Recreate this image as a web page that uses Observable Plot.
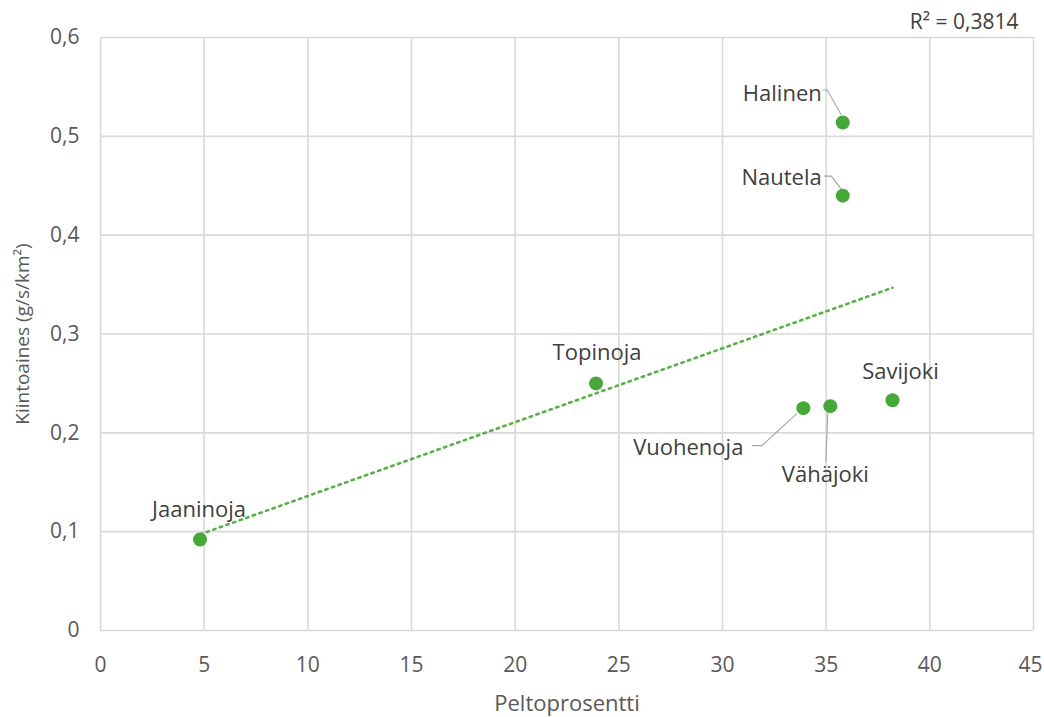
<!DOCTYPE html>
<html>
<head>
<meta charset="utf-8">
<script src="https://cdn.jsdelivr.net/npm/d3@7"></script>
<script src="https://cdn.jsdelivr.net/npm/@observablehq/plot@0.6"></script>
<style>
  html, body { margin: 0; padding: 0; background: #fff; }
  #chart svg { display: block; }
</style>
</head>
<body>
<div id="chart"></div>
<script>
// River stations: field percentage vs. suspended solids load
const stations = ["Halinen", "Nautela", "Topinoja", "Savijoki", "Vuohenoja", "Vähäjoki", "Jaaninoja"];
const peltoprosentti = [35.8, 35.8, 23.9, 38.2, 33.9, 35.2, 4.8];
const kiintoaines = [0.514, 0.440, 0.250, 0.233, 0.225, 0.227, 0.092];
const r2Value = 0.3814;

const xTicks = [0, 5, 10, 15, 20, 25, 30, 35, 40, 45];
const yTicks = [0, 0.1, 0.2, 0.3, 0.4, 0.5, 0.6];
const xTitle = "Peltoprosentti";
const yTitle = "Kiintoaines (g/s/km²)";

const data = stations.map((name, i) => ({name, x: peltoprosentti[i], y: kiintoaines[i]}));

// Label placement (pixel offsets from each point) and leader-line paths
const labelLayout = {
  "Halinen":   {dx: -21, dy: -29, anchor: "end",    leader: [[-1, -7], [-15, -32], [-20, -32]]},
  "Nautela":   {dx: -21, dy: -18, anchor: "end",    leader: [[-1, -6], [-11, -19], [-18, -19]]},
  "Topinoja":  {dx: 1,   dy: -30, anchor: "middle"},
  "Savijoki":  {dx: 8,   dy: -28, anchor: "middle"},
  "Vuohenoja": {dx: -60, dy: 40,  anchor: "end",    leader: [[-6, 6], [-41, 38], [-51, 38]]},
  "Vähäjoki":  {dx: -5,  dy: 69,  anchor: "middle", leader: [[-2, 7], [-4, 56]]},
  "Jaaninoja": {dx: -1,  dy: -30, anchor: "middle"}
};

const comma = d => d === 0 ? "0" : d.toFixed(1).replace(".", ",");
const green = "#45a839";
const trendGreen = "#56b148";
const gridColor = "#d9d9d9";
const tickColor = "#595959";
const labelColor = "#404040";
const font = "'Open Sans', 'Noto Sans', sans-serif";

const xTickStyle = {frameAnchor: "bottom", dy: 35, fill: tickColor, fontSize: 21, lineAnchor: "middle"};

const chart = Plot.plot({
  width: 1044,
  height: 717,
  marginLeft: 100,
  marginRight: 11,
  marginTop: 37,
  marginBottom: 87,
  style: {fontFamily: font, background: "#fff"},
  x: {domain: [0, 45], axis: null},
  y: {domain: [0, 0.6], axis: null},
  marks: [
    // gridlines
    Plot.ruleX(xTicks, {x: d => d, stroke: gridColor, strokeWidth: 1.6, strokeOpacity: 1}),
    Plot.ruleY(yTicks, {y: d => d, stroke: gridColor, strokeWidth: 1.6, strokeOpacity: 1}),
    // tick labels (the last x label is nudged in from the right edge)
    Plot.text(xTicks.slice(0, -1), {x: d => d, text: d => String(d), ...xTickStyle}),
    Plot.text(xTicks.slice(-1), {x: d => d, text: d => String(d), ...xTickStyle, dx: -3}),
    Plot.text(yTicks, {y: d => d, frameAnchor: "left", dx: -21, text: comma,
      fill: tickColor, fontSize: 21, textAnchor: "end"}),
    // axis titles
    Plot.text([xTitle], {frameAnchor: "bottom", dy: 73, fill: tickColor, fontSize: 22,
      textAnchor: "middle", lineAnchor: "middle"}),
    Plot.text([yTitle], {frameAnchor: "left", dx: -78, rotate: -90, fill: tickColor, fontSize: 19,
      textAnchor: "middle", lineAnchor: "middle"}),
    // linear trend line (dotted)
    Plot.linearRegressionY(data, {
      x: "x", y: "y", ci: 0, stroke: trendGreen, strokeWidth: 2.6,
      strokeDasharray: "2.4,4.6"
    }),
    // leader lines from labels to their points
    (index, scales) => {
      const g = d3.create("svg:g").attr("fill", "none").attr("stroke", "#a6a6a6").attr("stroke-width", 1.1);
      for (const d of data) {
        const lay = labelLayout[d.name];
        if (!lay.leader) continue;
        const px = scales.x(d.x), py = scales.y(d.y);
        g.append("path").attr("d", d3.line()(lay.leader.map(([a, b]) => [px + a, py + b])));
      }
      return g.node();
    },
    Plot.dot(data, {x: "x", y: "y", r: 7, fill: green, stroke: "none"}),
    ...data.map(d => {
      const lay = labelLayout[d.name];
      return Plot.text([d], {
        x: "x", y: "y", text: "name", dx: lay.dx, dy: lay.dy,
        textAnchor: lay.anchor, fill: labelColor, fontSize: 22
      });
    }),
    Plot.text([`R² = ${r2Value.toFixed(4).replace(".", ",")}`], {
      frameAnchor: "top-right", dx: -15, dy: -15, fill: labelColor, fontSize: 21,
      textAnchor: "end", lineAnchor: "middle"
    })
  ]
});

document.getElementById("chart").append(chart);
</script>
</body>
</html>
